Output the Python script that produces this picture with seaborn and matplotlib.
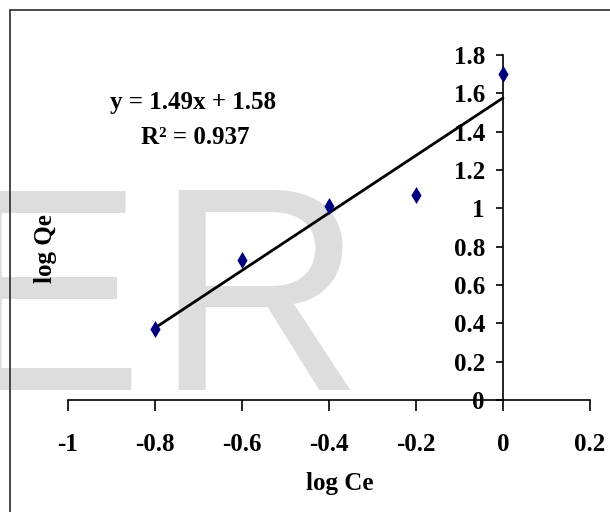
import matplotlib
matplotlib.use("Agg")
import matplotlib.pyplot as plt
import seaborn as sns
import pandas as pd
from matplotlib.patches import Rectangle

# ---- data ----
log_ce = [-0.8, -0.6, -0.4, -0.2, 0.0]
log_qe = [0.37, 0.73, 1.01, 1.07, 1.70]
x_ticks = [-1.0, -0.8, -0.6, -0.4, -0.2, 0.0, 0.2]
x_tick_labels = ["-1", "-0.8", "-0.6", "-0.4", "-0.2", "0", "0.2"]
y_ticks = [0.0, 0.2, 0.4, 0.6, 0.8, 1.0, 1.2, 1.4, 1.6, 1.8]
y_tick_labels = ["0", "0.2", "0.4", "0.6", "0.8", "1", "1.2", "1.4", "1.6", "1.8"]
equation_text = "y = 1.49x + 1.58"
r2_text = "R² = 0.937"
x_label = "log Ce"
y_label = "log Qe"
watermark_letters = ["E", "R"]

sns.set_theme(style="white")
plt.rcParams['font.family'] = ['Liberation Serif', 'DejaVu Serif']

W, H = 610, 512
fig = plt.figure(figsize=(W / 100, H / 100), dpi=100)
fig.patch.set_facecolor('white')

# axes: x -1 -> px 68, 0.2 -> px 590 ; y 0 -> px 400, 1.8 -> px 55
ax = fig.add_axes([68 / W, 1 - 400 / H, 522 / W, 345 / H])
ax.set_facecolor('none')

# watermark behind everything
wm_kw = dict(family=['Liberation Sans', 'DejaVu Sans'], fontsize=208,
             color='#dddddd', va='baseline', zorder=-1)
fig.text(143 / W, 1 - 390 / H, watermark_letters[0], ha='right', **wm_kw)
fig.text(154 / W, 1 - 390 / H, watermark_letters[1], ha='left', **wm_kw)

# figure frame (left and top visible)
fig.patches.append(Rectangle((10 / W, -0.1), 1.2, (1 - 10 / H) + 0.1,
                             transform=fig.transFigure, fill=False,
                             edgecolor='#3a3a3a', linewidth=1.3, zorder=5))

df = pd.DataFrame({x_label: log_ce, y_label: log_qe})
sns.regplot(data=df, x=x_label, y=y_label, ax=ax, ci=None, truncate=True,
            marker='d',
            scatter_kws=dict(s=75, color='#00007f', alpha=1.0, linewidths=0, zorder=4),
            line_kws=dict(color='black', linewidth=2.0, zorder=3))

ax.set_xlim(-1.0, 0.2)
ax.set_ylim(0.0, 1.8)

for s in ['top', 'right']:
    ax.spines[s].set_visible(False)
ax.spines['left'].set_position(('data', 0))
for s in ['left', 'bottom']:
    ax.spines[s].set_color('black')
    ax.spines[s].set_linewidth(1.2)

ax.set_xticks(x_ticks, labels=x_tick_labels, fontsize=18, fontweight='bold')
ax.set_yticks(y_ticks, labels=y_tick_labels, fontsize=18, fontweight='bold')
ax.tick_params(axis='x', bottom=True, direction='out', length=8, width=1.2,
               pad=16, colors='black')
ax.tick_params(axis='y', left=True, direction='out', length=5, width=1.2,
               pad=8, colors='black')

ax.set_xlabel(x_label, fontsize=18, fontweight='bold', color='black')
ax.xaxis.set_label_coords(0.521, -0.21)
ax.set_ylabel(y_label, fontsize=18, fontweight='bold', color='black')
ax.yaxis.set_label_coords(-0.021, 0.44)

fig.text(193 / W, 1 - 103 / H, equation_text, fontsize=18, fontweight='bold',
         ha='center', va='center', color='black')
fig.text(195 / W, 1 - 138 / H, r2_text, fontsize=18, fontweight='bold',
         ha='center', va='center', color='black')

fig.savefig('out.png', dpi=100)
